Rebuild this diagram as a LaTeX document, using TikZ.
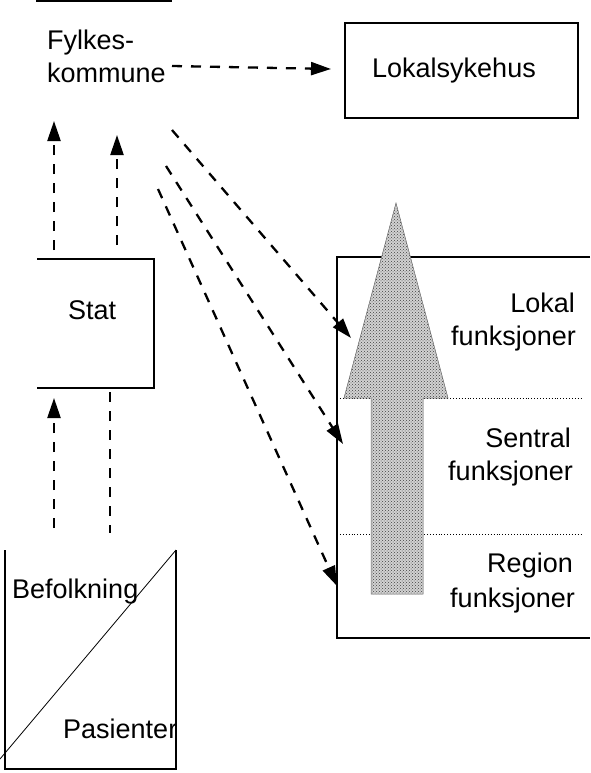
\documentclass[tikz,border=0pt]{standalone}
\usepackage{fontspec}
\setmainfont{Liberation Sans}
\usetikzlibrary{arrows.meta,patterns}
\begin{document}
\begin{tikzpicture}[x=1pt,y=-1pt,
  lbl/.style={inner sep=0pt,font=\fontsize{27}{33}\selectfont},
  boxline/.style={line width=1.1pt},
  dasharrow/.style={line width=2.3pt,dash pattern=on 10pt off 9pt,-{Triangle[length=20pt,width=13pt]}},
  dashline/.style={line width=2.3pt,dash pattern=on 10pt off 9pt},
  sep/.style={line width=0.9pt,dotted}]
\useasboundingbox (0,0) rectangle (590,773);
% Fylkeskommune
\draw[boxline] (36,1) -- (172,1);
\node[lbl,anchor=base west] (fy1) at (47,50) {Fylkes-};
\node[lbl,anchor=base west] (fy2) at (47,83) {kommune};
% Lokalsykehus
\draw[boxline] (345,23) rectangle (578,118);
\node[lbl,anchor=base west] (lok) at (372,78) {Lokalsykehus};
% Stat
\draw[boxline] (37,259) -- (154,259) -- (154,388) -- (37,388);
\node[lbl,anchor=base west] (stat) at (68,319) {Stat};
% Befolkning / Pasienter
\draw[boxline] (5,550) -- (5,769) -- (176,769) -- (176,550);
\draw[line width=0.8pt] (0,759) -- (176,550);
\node[lbl,anchor=base west] (bef) at (12,598) {Befolkning};
\node[lbl,anchor=base west] (pas) at (63,738) {Pasienter};
% right box
\draw[boxline] (590,257) -- (337,257) -- (337,638) -- (590,638);
\draw[sep] (337,398) -- (583,398);
\draw[sep] (337,534) -- (583,534);
% big arrow
\path[fill=gray!35] (396,203) -- (448,398) -- (423,398) -- (423,594) -- (371,594) -- (371,398) -- (344,398) -- cycle;
\path[pattern=crosshatch dots,pattern color=black!75] (396,203) -- (448,398) -- (423,398) -- (423,594) -- (371,594) -- (371,398) -- (344,398) -- cycle;
\draw[line width=0.5pt,black!60] (396,203) -- (448,398) -- (423,398) -- (423,594) -- (371,594) -- (371,398) -- (344,398) -- cycle;
% labels right
\node[lbl,anchor=base east] (l1) at (575,312) {Lokal};
\node[lbl,anchor=base east] (l2) at (576,345) {funksjoner};
\node[lbl,anchor=base east] (s1) at (571,447) {Sentral};
\node[lbl,anchor=base east] (s2) at (573,480) {funksjoner};
\node[lbl,anchor=base east] (r1) at (573,572) {Region};
\node[lbl,anchor=base east] (r2) at (575,607) {funksjoner};
% connector endpoints
\coordinate (h0) at (172,66); \coordinate (h1) at (331,69);
\coordinate (d1a) at (172,130); \coordinate (d1b) at (351,338);
\coordinate (d2a) at (166,166); \coordinate (d2b) at (343,444);
\coordinate (d3a) at (158,189); \coordinate (d3b) at (337,586);
\coordinate (u1a) at (54,250); \coordinate (u1b) at (54,121);
\coordinate (u2a) at (117,245); \coordinate (u2b) at (117,135);
\coordinate (v1a) at (54,528); \coordinate (v1b) at (54,398);
\coordinate (v2a) at (110,392); \coordinate (v2b) at (110,533);
% connectors
\draw[dasharrow] (h0) -- (h1);
\draw[dasharrow] (d1a) -- (d1b);
\draw[dasharrow] (d2a) -- (d2b);
\draw[dasharrow] (d3a) -- (d3b);
\draw[dasharrow] (u1a) -- (u1b);
\draw[dasharrow] (u2a) -- (u2b);
\draw[dasharrow] (v1a) -- (v1b);
\draw[dashline] (v2a) -- (v2b);
\end{tikzpicture}
\end{document}
